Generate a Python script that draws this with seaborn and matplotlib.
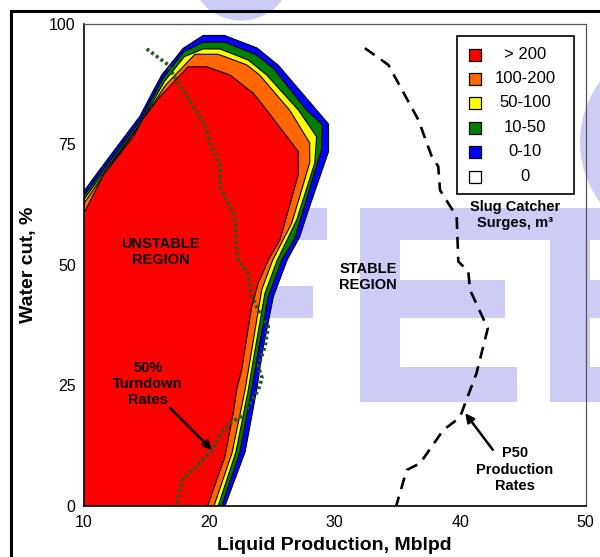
import matplotlib
matplotlib.use("Agg")
import matplotlib.pyplot as plt
from matplotlib.patches import Rectangle, Circle
import seaborn as sns

# Slug catcher surge bands: outer boundary of each band, running from the
# left edge (x=10) over the top and down the right side to the x axis
blue_x = [10, 11.85, 14.45, 15.5, 16.2, 17.9, 19.5, 21.2, 23.8, 25.5, 28.55, 29.5, 29.5, 27.9, 27.2, 26.2, 25.1, 24.2, 23.8, 22.85, 21.25]
blue_y = [65.3, 71.8, 80.8, 86.0, 89.4, 94.9, 97.6, 97.6, 95.0, 91.4, 82.1, 79.2, 73.5, 61.4, 55.8, 51.0, 43.4, 31.6, 24.5, 11.2, 0]
green_x = [10, 11.9, 14.5, 16.3, 17.95, 19.5, 21.2, 23.65, 25.1, 27.75, 29.0, 28.95, 27.5, 26.8, 25.77, 24.7, 23.77, 23.37, 22.44, 20.98]
green_y = [64.4, 71.0, 80.0, 88.7, 94.2, 96.2, 96.2, 93.7, 90.8, 82.1, 79.1, 74.0, 61.4, 55.5, 51.0, 43.4, 30.2, 24.0, 11.2, 0]
yellow_x = [10, 11.9, 14.5, 16.4, 18.0, 19.5, 20.85, 23.1, 24.57, 27.1, 28.55, 28.4, 26.96, 25.42, 24.43, 23.5, 23.1, 22.12, 20.71]
yellow_y = [63.6, 70.3, 79.3, 88.0, 93.2, 94.8, 94.8, 92.5, 89.4, 82.1, 76.6, 71.1, 59.3, 51.0, 44.1, 30.2, 24.0, 11.2, 0]
orange_x = [10, 11.8, 14.3, 16.5, 18.85, 20.7, 22.97, 24.0, 26.4, 28.0, 28.0, 26.56, 25.05, 24.17, 23.24, 22.84, 21.8, 20.37]
orange_y = [62.8, 69.5, 78.5, 87.3, 93.7, 93.7, 91.5, 89.4, 82.1, 75.3, 71.2, 58.6, 51.0, 44.8, 30.2, 24.0, 10.9, 0]
red_x = [10, 11.54, 13.93, 14.73, 16.06, 18.3, 19.78, 21.64, 23.5, 24.57, 27.09, 27.09, 25.63, 24.7, 23.9, 23.37, 22.57, 22.17, 21.9, 21.24, 19.86]
red_y = [60.7, 68.6, 76.6, 80.4, 84.9, 91.1, 91.1, 89.4, 85.6, 82.1, 73.5, 68.7, 55.2, 51.0, 46.2, 41.3, 28.2, 24.0, 19.2, 10.2, 0]

# 50% turndown rates (dotted) and P50 production rates (dashed)
turndown_x = [15.0, 16.72, 17.12, 18.45, 19.65, 20.05, 20.85, 20.85, 22.04, 22.17, 22.3, 23.1, 23.37, 24.04, 24.7, 24.43, 23.9, 24.2, 23.9, 22.7, 21.64, 20.85, 20.3, 18.85, 17.92, 17.66, 17.4]
turndown_y = [94.8, 91.5, 89.4, 83.9, 79.0, 75.3, 70.7, 66.2, 60.0, 53.0, 51.0, 48.2, 43.4, 39.9, 37.2, 33.0, 28.9, 26.5, 24.0, 18.8, 17.1, 14.7, 11.9, 7.8, 5.7, 3.9, 0]
p50_x = [32.4, 34.27, 36.66, 37.73, 38.25, 38.39, 39.72, 39.85, 40.65, 40.78, 42.2, 41.3, 40.1, 39.72, 38.65, 36.8, 35.73, 34.9]
p50_y = [94.96, 91.5, 80.1, 72.5, 70.4, 65.5, 60.0, 50.7, 48.6, 44.8, 36.8, 27.5, 19.2, 17.8, 15.7, 8.8, 7.4, 0]

legend_labels = ["> 200", "100-200", "50-100", "10-50", "0-10", "0"]
legend_colors = ["#ff0000", "#ff6600", "#ffff00", "#008000", "#0000ff", "#ffffff"]

sns.set_theme(style="white")
plt.rcParams["font.family"] = ["Liberation Sans", "DejaVu Sans"]
plt.rcParams["text.color"] = "black"
plt.rcParams["axes.labelcolor"] = "black"

fig = plt.figure(figsize=(6, 5.57), dpi=100)
fig.patch.set_facecolor("white")

# faint logo watermark behind the chart (figure pixel coords, origin top-left)
wm = "#ccccf6"
def px_rect(x0, y0, x1, y1):
    fig.patches.append(Rectangle((x0 / 600, 1 - y1 / 557), (x1 - x0) / 600, (y1 - y0) / 557,
                                 transform=fig.transFigure, color=wm, lw=0, zorder=-2))
fig.patches.append(Circle((241 / 600, 1 + 25 / 557), 49 / 600, transform=fig.transFigure,
                          color=wm, lw=0, zorder=-2))
fig.patches.append(Circle((696 / 600, 1 - 142 / 557), 116 / 600, transform=fig.transFigure,
                          color=wm, lw=0, zorder=-2))
px_rect(180, 208, 327, 240)
px_rect(180, 286, 313, 318)
px_rect(360, 208, 400, 402)
px_rect(400, 208, 550, 240)
px_rect(400, 280, 505, 318)
px_rect(400, 367, 517, 402)
px_rect(550, 208, 590, 402)
px_rect(590, 208, 600, 240)
px_rect(590, 280, 600, 318)
px_rect(590, 367, 600, 402)

# outer slide frame
fig.patches.append(Rectangle((11 / 600, -0.1), 1.2, 1.1 - 11 / 557, transform=fig.transFigure,
                             fill=False, ec="black", lw=2.2, zorder=5))

ax = fig.add_axes([0.14, 0.0921, 0.836, 0.865])
ax.set_zorder(1)
ax.set_facecolor("none")

bands = [(blue_x, blue_y, "#0000ff"), (green_x, green_y, "#008000"),
         (yellow_x, yellow_y, "#ffff00"), (orange_x, orange_y, "#ff6600"),
         (red_x, red_y, "#ff0000")]
for bx, by, c in bands:
    ax.fill(bx + [10], by + [0], facecolor=c, edgecolor="black", lw=0.8, zorder=2)

sns.lineplot(x=turndown_x, y=turndown_y, sort=False, estimator=None, ax=ax,
             color="#1e5a1e", lw=2.6, linestyle=(0, (0.8, 0.8)), zorder=3)
sns.lineplot(x=p50_x, y=p50_y, sort=False, estimator=None, ax=ax,
             color="black", lw=1.9, linestyle=(0, (4.5, 3)), zorder=3)

ax.set_xlim(10, 50)
ax.set_ylim(0, 100)
ax.set_xticks([10, 20, 30, 40, 50])
ax.set_yticks([0, 25, 50, 75, 100])
ax.tick_params(length=0, labelsize=11.5, colors="black")
ax.tick_params(axis="x", pad=7)
ax.tick_params(axis="y", pad=6)
for side in ["top", "right"]:
    ax.spines[side].set_color("#555555")
    ax.spines[side].set_linewidth(0.9)
for side in ["left", "bottom"]:
    ax.spines[side].set_color("black")
    ax.spines[side].set_linewidth(1.2)
ax.set_xlabel("Liquid Production, Mblpd", fontsize=14, fontweight="bold", labelpad=5)
ax.set_ylabel("Water cut, %", fontsize=14, fontweight="bold", labelpad=9)

tk = dict(fontsize=10.5, fontweight="bold", ha="center", va="center", color="black",
          multialignment="center", linespacing=1.2, zorder=6)
ax.text(16.1, 52.6, "UNSTABLE\nREGION", **tk)
ax.text(15.1, 25.3, "50%\nTurndown\nRates", **tk)
ax.text(32.65, 47.4, "STABLE\nREGION", **tk)
ax.text(44.37, 60.3, "Slug Catcher\nSurges, m³", **tk)
ax.text(44.37, 7.5, "P50\nProduction\nRates", **tk)

arw = dict(arrowstyle="-|>", color="black", lw=1.8, mutation_scale=13, shrinkA=0, shrinkB=0)
ax.annotate("", xy=(20.2, 11.6), xytext=(16.86, 20.3), arrowprops=arw, zorder=6)
ax.annotate("", xy=(40.4, 19.2), xytext=(42.6, 11.6), arrowprops=arw, zorder=6)

# legend box, drawn in axes fraction
ax.add_patch(Rectangle((0.744, 0.647), 0.233, 0.328, transform=ax.transAxes,
                       facecolor="white", edgecolor="black", lw=1.2, zorder=7))
row_y = [0.9357, 0.8858, 0.836, 0.7841, 0.735, 0.6831]
for lbl, c, ry in zip(legend_labels, legend_colors, row_y):
    ax.add_patch(Rectangle((0.780 - 0.012, ry - 0.0125), 0.024, 0.025, transform=ax.transAxes,
                           facecolor=c, edgecolor="black", lw=0.9, zorder=8))
    ax.text(0.879, ry, lbl, transform=ax.transAxes, ha="center", va="center",
            fontsize=12, color="black", zorder=8)

fig.savefig("out.png", dpi=100)
